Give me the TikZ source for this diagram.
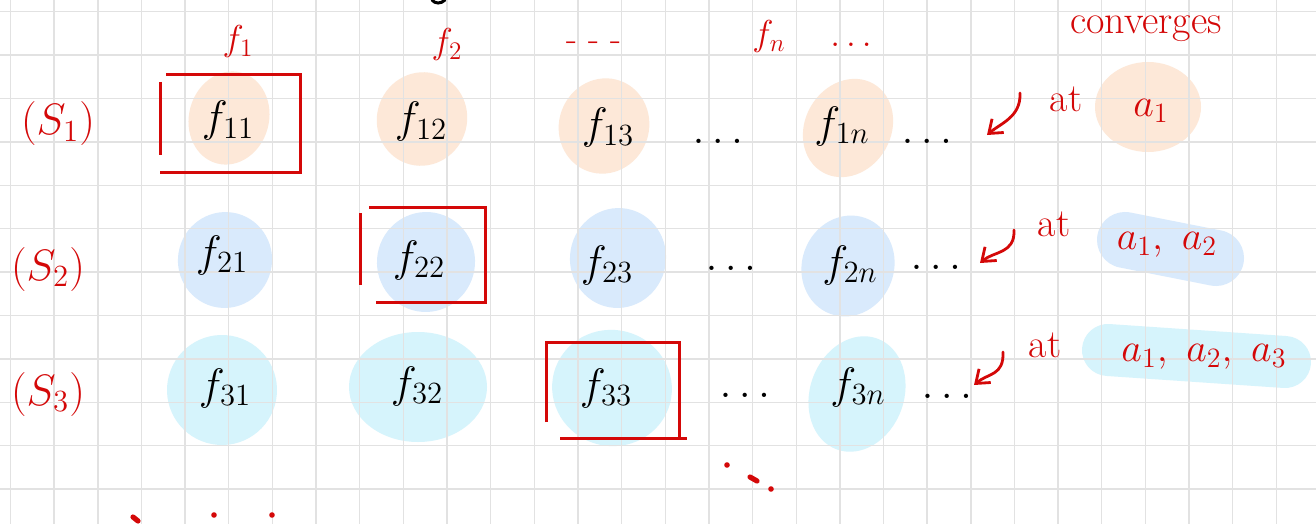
\documentclass[tikz,border=0pt]{standalone}
\usepackage{fix-cm}
\usetikzlibrary{arrows.meta}

\definecolor{penred}{RGB}{212,8,8}
\definecolor{peach}{RGB}{253,232,216}
\definecolor{skyblue}{RGB}{217,234,252}
\definecolor{icecyan}{RGB}{214,244,252}
\definecolor{gridgray}{RGB}{226,226,226}

\begin{document}
\begin{tikzpicture}[x=0.5pt, y=-0.5pt, >={Straight Barb[length=6pt,width=9pt]},
  cell/.style={font=\fontsize{22}{26}\selectfont, inner sep=0pt},
  hdr/.style={penred, font=\fontsize{18}{21}\selectfont, inner sep=0pt},
  pen/.style={penred, font=\fontsize{20}{24}\selectfont, inner sep=0pt},
  rowlbl/.style={penred, font=\fontsize{22}{26}\selectfont, inner sep=0pt},
  gridline/.style={gridgray, line width=0.7pt},
  redbox/.style={penred, line width=1.5pt},
  hook/.style={penred, line width=1.4pt, ->, line cap=round}]

  % --- 1. paper and grid ---
  \fill[white] (0,0) rectangle (1316,524);
  \useasboundingbox (0,0) rectangle (1316,524);

  % highlighted blobs (behind the grid)
  \foreach \cx/\cy/\rx/\ry/\rot/\col in {
      229/118/40/47/-15/peach, 422/119/45/47/-20/peach, 604/126/45/48/-20/peach,
      848/128/43/51/-30/peach, 1148/107/53/45/0/peach,
      225/260/47/48/-15/skyblue, 426/262/49/50/-10/skyblue, 618/258/48/50/-10/skyblue,
      848/266/46/51/-20/skyblue,
      222/390/55/55/-10/icecyan, 418/387/69/55/0/icecyan, 612/388/60/58/-15/icecyan,
      857/394/47/59/-20/icecyan}
    \fill[\col] (\cx,\cy) circle[x radius=\rx*0.5pt, y radius=\ry*0.5pt, rotate=\rot];
  \draw[skyblue, line width=28pt, line cap=round] (1125,240) -- (1216,258);
  \draw[icecyan, line width=26pt, line cap=round] (1108,350) -- (1285,362);

  \foreach \i in {0,...,29}
    \draw[gridline] ({10.5+43.65*\i},0) -- ({10.5+43.65*\i},524);
  \foreach \j in {0,...,11}
    \draw[gridline] (0,{11.7+43.4*\j}) -- (1316,{11.7+43.4*\j});

  % cut-off stroke at the top edge
  \draw[line width=1.5pt, line cap=round] (432,0) .. controls (435,4) and (441,4) .. (445,0);

  % --- 2. column heads ---
  \node[hdr] (h1) at (238,42) {$f_1$};
  \node[hdr] (h2) at (447,45) {$f_2$};
  \node[hdr] (h3) at (594,46) {- - -};
  \node[hdr] (hn) at (769,37) {$f_n$};
  \node[hdr] (hdots) at (851,45) {$\dots$};
  \node[pen] (conv) at (1146,29) {converges};

  % --- 3. rows of sequences ---
  \node[rowlbl] (s1) at (58,124) {$(S_1)$};
  \node[rowlbl] (s2) at (48,269) {$(S_2)$};
  \node[rowlbl] (s3) at (48,394) {$(S_3)$};

  \foreach \nm/\x/\y in {11/228/121, 12/421/122, 13/608/128, 1n/842/126,
                         21/222/255, 22/419/260, 23/607/265, 2n/850/265,
                         31/225/388, 32/417/386, 33/606/388, 3n/858/387}
    \node[cell] (f\nm) at (\x,\y) {$f_{\nm}$};

  \node[cell] (d1a) at (718,141) {$\dots$};
  \node[cell] (d1b) at (927,141) {$\dots$};
  \node[cell] (d2a) at (731,268) {$\dots$};
  \node[cell] (d2b) at (936,267) {$\dots$};
  \node[cell] (d3a) at (745,395) {$\dots$};
  \node[cell] (d3b) at (947,396) {$\dots$};

  % diagonal boxes
  \draw[redbox] (160,82) -- (160,155);
  \draw[redbox] (166,75) -- (300,75) -- (300,172) -- (160,172);
  \draw[redbox] (360,213) -- (360,285);
  \draw[redbox] (369,207) -- (485,207) -- (485,302) -- (376,302);
  \draw[redbox] (546,422) -- (546,342) -- (679,342) -- (679,438);
  \draw[redbox] (560,438) -- (687,438);

  % --- 4. limits ---
  \node[pen] (at1) at (1066,99) {at};
  \node[pen] (at2) at (1054,224) {at};
  \node[pen] (at3) at (1045,345) {at};
  \node[pen] (lim1) at (1151,111) {$a_1$};
  \node[pen] (lim2) at (1167,245) {$a_1,\ a_2$};
  \node[pen] (lim3) at (1204,357) {$a_1,\ a_2,\ a_3$};

  \coordinate (t1) at (1020,93);  \coordinate (e1) at (987,135);
  \coordinate (t2) at (1014,230); \coordinate (e2) at (980,263);
  \coordinate (t3) at (1003,352); \coordinate (e3) at (974,385);
  \foreach \k in {1,2,3}
    \draw[hook] (t\k) .. controls +(1,24) and +(14,-12) .. (e\k);

  % --- 5. loose dots ---
  \fill[penred] (727,465) circle (1.4pt);
  \draw[penred, line width=2.6pt, line cap=round] (750,477) -- (757,481);
  \fill[penred] (771,489) circle (1.4pt);
  \draw[penred, line width=2.6pt, line cap=round] (133,517) -- (138,521);
  \fill[penred] (214,515) circle (1.4pt);
  \fill[penred] (272,515) circle (1.4pt);

\end{tikzpicture}
\end{document}
